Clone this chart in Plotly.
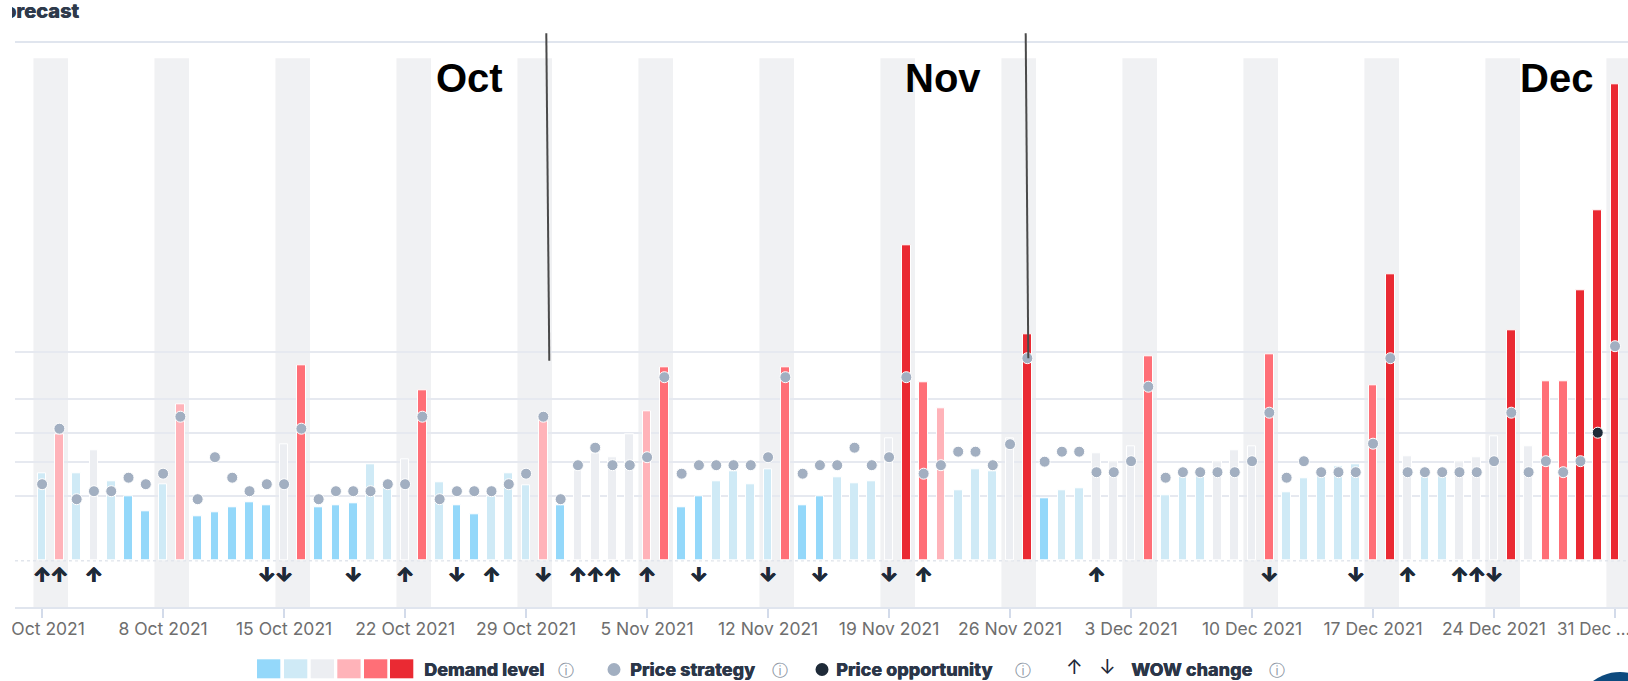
import pandas as pd
import plotly.graph_objects as go

# ---------------- data ----------------
dates = pd.date_range("2021-10-01", "2021-12-31", freq="D")

demand = [17.5, 25.3, 17.5, 22.1, 15.8, 12.9, 9.8, 15.3, 31.3, 8.8,
          9.6, 10.7, 11.7, 11.0, 23.2, 39.1, 10.7, 11.0, 11.5, 19.3,
          14.5, 20.3, 34.0, 15.6, 11.0, 9.3, 12.8, 17.5, 15.1, 28.1,
          11.1, 18.1, 21.5, 20.7, 25.3, 29.9, 38.6, 10.7, 12.8, 15.8,
          17.8, 15.3, 18.3, 38.6, 11.1, 12.8, 16.7, 15.5, 15.8, 24.5,
          63.0, 35.6, 30.5, 14.1, 18.3, 17.8, 24.5, 45.3, 12.5, 14.1,
          14.5, 21.5, 19.8, 22.9, 40.8, 13.1, 16.9, 16.9, 19.8, 22.1,
          22.9, 41.3, 13.6, 16.5, 17.5, 18.9, 19.3, 35.1, 57.3, 20.9,
          17.1, 17.1, 19.8, 20.7, 24.8, 46.1, 22.9, 35.8, 35.8, 54.0,
          70.0, 95.3]

demand_level = [2, 4, 2, 3, 2, 1, 1, 2, 4, 1,
                1, 1, 1, 1, 3, 5, 1, 1, 1, 2,
                2, 3, 5, 2, 1, 1, 2, 2, 2, 4,
                1, 3, 3, 3, 3, 4, 5, 1, 1, 2,
                2, 2, 2, 5, 1, 1, 2, 2, 2, 3,
                6, 5, 4, 2, 2, 2, 3, 6, 1, 2,
                2, 3, 3, 3, 5, 2, 2, 2, 3, 3,
                3, 5, 2, 2, 2, 2, 2, 5, 6, 3,
                2, 2, 3, 3, 3, 6, 3, 5, 5, 6,
                6, 6]

price_strategy = [15.3, 26.4, 12.3, 13.9, 13.9, 16.6, 15.3, 17.4, 28.8, 12.3,
                  20.7, 16.6, 13.9, 15.3, 15.3, 26.4, 12.3, 13.9, 13.9, 13.9,
                  15.3, 15.3, 28.8, 12.3, 13.9, 13.9, 13.9, 15.3, 17.4, 28.8,
                  12.3, 19.1, 22.6, 19.1, 19.1, 20.7, 36.7, 17.4, 19.1, 19.1,
                  19.1, 19.1, 20.7, 36.7, 17.4, 19.1, 19.1, 22.6, 19.1, 20.7,
                  36.7, 17.4, 19.1, 21.8, 21.8, 19.1, 23.3, 40.5, 19.8, 21.8,
                  21.8, 17.7, 17.7, 19.9, 34.8, 16.6, 17.7, 17.7, 17.7, 17.7,
                  19.9, 29.6, 16.6, 19.9, 17.7, 17.7, 17.7, 23.4, 40.5, 17.7,
                  17.7, 17.7, 17.7, 17.7, 19.9, 29.6, 17.7, 19.9, 17.7, 19.9,
                  None, 42.9]

opportunity_dates = ["2021-12-30"]
opportunity_values = [25.6]

wow_up = ["2021-10-01", "2021-10-02", "2021-10-04", "2021-10-22", "2021-10-27",
          "2021-11-01", "2021-11-02", "2021-11-03", "2021-11-05", "2021-11-21",
          "2021-12-01", "2021-12-19", "2021-12-22", "2021-12-23"]
wow_down = ["2021-10-14", "2021-10-15", "2021-10-19", "2021-10-25", "2021-10-30",
            "2021-11-08", "2021-11-12", "2021-11-15", "2021-11-19", "2021-12-11",
            "2021-12-16", "2021-12-24"]

month_labels = ["Oct", "Nov", "Dec"]
legend_labels = ["Demand level", "Price strategy", "Price opportunity", "WOW change"]
grid_values = [41.8, 32.3, 25.5, 19.8, 13.0]

# ---------------- styling ----------------
W, H = 1628, 681
level_colors = {1: "#94d8fa", 2: "#cfeaf6", 3: "#eceef2",
                4: "#ffb3b9", 5: "#ff6f77", 6: "#ea2a33"}
DOT = "#a2afc1"
DARK = "#1e2a38"
DAY_MS = 86400000


def px(x):
    return x / W


def py(y):
    return 1 - y / H


plot_left = 15.0
day_px = 17.285
first_px = 42.1
x_start = dates[0] - pd.Timedelta(days=(first_px - plot_left) / day_px)
x_end = x_start + pd.Timedelta(days=(W - plot_left) / day_px)

y_top_px, y_base_px, y_bot_px = 43.3, 560.7, 607.3
unit = 5.0
y_min = -(y_bot_px - y_base_px) / unit
y_max = (y_base_px - y_top_px) / unit
wow_y = -(577.5 - y_base_px) / unit

arrow_font = dict(family="Inter", size=20, color=DARK, weight=800,
                  shadow="0.5px 0 0 #1e2a38, -0.5px 0 0 #1e2a38")

fig = go.Figure()

fig.add_trace(go.Bar(
    x=dates, y=demand,
    marker=dict(color=[level_colors[l] for l in demand_level],
                line=dict(color="white", width=1)),
    width=0.5 * DAY_MS, showlegend=False, hoverinfo="x+y"))

fig.add_trace(go.Scatter(
    x=dates, y=price_strategy, mode="markers",
    marker=dict(size=11, color=DOT, line=dict(color="white", width=1)),
    showlegend=False, cliponaxis=False))

fig.add_trace(go.Scatter(
    x=pd.to_datetime(opportunity_dates), y=opportunity_values, mode="markers",
    marker=dict(size=11, color=DARK, line=dict(color="white", width=1)),
    showlegend=False, cliponaxis=False))

fig.add_trace(go.Scatter(
    x=pd.to_datetime(wow_up), y=[wow_y] * len(wow_up), mode="text",
    text=["↑"] * len(wow_up), textfont=arrow_font,
    showlegend=False, cliponaxis=False))

fig.add_trace(go.Scatter(
    x=pd.to_datetime(wow_down), y=[wow_y] * len(wow_down), mode="text",
    text=["↓"] * len(wow_down), textfont=arrow_font,
    showlegend=False, cliponaxis=False))

# title, cropped at the left edge like the screenshot
fig.add_trace(go.Scatter(
    x=[(79 - 12) / (0.2 * W - 12)], y=[0.62], mode="text",
    text=["Forecast"], textposition="middle left",
    textfont=dict(family="Inter", size=20, color="#2e3a4b", weight=800,
                  shadow="0.4px 0 0 #2e3a4b"),
    xaxis="x2", yaxis="y2", showlegend=False, cliponaxis=True, hoverinfo="skip"))

shapes = []
# weekend (Fri/Sat) bands
for d in dates:
    if d.weekday() == 4:
        shapes.append(dict(type="rect", xref="x", yref="paper",
                           x0=d - pd.Timedelta(hours=12), x1=d + pd.Timedelta(hours=36),
                           y0=py(y_bot_px), y1=py(58.3),
                           fillcolor="#f0f1f3", line=dict(width=0), layer="below"))
# dashed baseline
shapes.append(dict(type="line", xref="paper", yref="y", x0=px(plot_left), x1=1,
                   y0=0, y1=0, line=dict(color="#e1e5ec", width=1.5, dash="dot"),
                   layer="below"))
# hand-drawn black lines
shapes.append(dict(type="line", xref="paper", yref="paper",
                   x0=px(546.3), y0=py(33.3), x1=px(549.3), y1=py(360.7),
                   line=dict(color="#4a4a4a", width=2)))
shapes.append(dict(type="line", xref="paper", yref="paper",
                   x0=px(1025.7), y0=py(33.3), x1=px(1028.3), y1=py(358.3),
                   line=dict(color="#4a4a4a", width=2)))
# crop edge of the screenshot (left strip is blank)
shapes.append(dict(type="rect", xref="paper", yref="paper",
                   x0=-0.01, x1=px(12), y0=0, y1=1,
                   fillcolor="white", line=dict(width=0), layer="above"))

# legend swatches
sw_x = [257, 284, 310.7, 337.3, 364, 390]
for i, x0 in enumerate(sw_x):
    shapes.append(dict(type="rect", xref="paper", yref="paper",
                       x0=px(x0), x1=px(x0 + 23.3), y0=py(678.3), y1=py(659.3),
                       fillcolor=level_colors[i + 1], line=dict(width=0)))
# legend dots
for cx, col in [(614, DOT), (822, DARK)]:
    shapes.append(dict(type="circle", xref="paper", yref="paper",
                       x0=px(cx - 6.5), x1=px(cx + 6.5), y0=py(676), y1=py(663),
                       fillcolor=col, line=dict(width=0)))
# chat bubble in the corner of the screenshot
shapes.append(dict(type="circle", xref="paper", yref="paper",
                   x0=px(1575), x1=px(1665), y0=py(762), y1=py(672),
                   fillcolor="#0d4a7e", line=dict(width=0)))

annotations = []
for label, cx in zip(month_labels, [469.5, 943, 1556.7]):
    annotations.append(dict(text="<b>%s</b>" % label, xref="paper", yref="paper",
                            x=px(cx), y=py(77.5), xanchor="center", yanchor="middle",
                            showarrow=False,
                            font=dict(family="Liberation Sans, Arial", size=40, color="black")))

leg_y = py(669)
leg_font = dict(family="Inter", size=18, color="#2b3648", weight=800,
                shadow="0.4px 0 0 #2b3648")
for label, x0 in zip(legend_labels, [422, 627.5, 834, 1129]):
    annotations.append(dict(text=label, xref="paper", yref="paper",
                            x=px(x0), y=leg_y, xanchor="left", yanchor="middle",
                            showarrow=False, font=leg_font))
for cx in [566, 779.8, 1022.6, 1277]:
    annotations.append(dict(text="ⓘ", xref="paper", yref="paper", x=px(cx), y=py(670),
                            xanchor="center", yanchor="middle", showarrow=False,
                            font=dict(family="DejaVu Sans", size=16, color="#8c95a3")))
for sym, cx in [("↑", 1074), ("↓", 1107)]:
    annotations.append(dict(text=sym, xref="paper", yref="paper", x=px(cx), y=py(667),
                            xanchor="center", yanchor="middle", showarrow=False,
                            font=dict(family="Inter", size=20, color=DARK)))
# last tick label, shortened by the app
annotations.append(dict(text="31 Dec …", xref="paper", yref="paper", x=px(1555), y=py(628.5),
                        xanchor="left", yanchor="middle", showarrow=False,
                        font=dict(family="Inter", size=17, color="#6e6e6e")))

tickvals = list(dates[::7])
ticktext = [d.strftime("%-d %b %Y") for d in tickvals]
ticktext[-1] = ""

fig.update_layout(
    width=W, height=H,
    margin=dict(l=0, r=0, t=0, b=0),
    paper_bgcolor="white", plot_bgcolor="white",
    bargap=0,
    xaxis=dict(type="date", domain=[px(plot_left), 1], range=[x_start, x_end],
               tickvals=tickvals, ticktext=ticktext, showgrid=False,
               showline=True, linecolor="#e0e5ee", linewidth=2, mirror=True,
               ticks="outside", ticklen=9, tickwidth=2, tickcolor="#d3dbea",
               ticklabelstandoff=-4, ticklabeloverflow="allow",
               tickfont=dict(family="Inter", size=17.5, color="#6e6e6e"),
               zeroline=False, automargin=False, fixedrange=True),
    yaxis=dict(domain=[py(y_bot_px), py(y_top_px)], range=[y_min, y_max],
               tickvals=grid_values, showticklabels=False, showgrid=True,
               gridcolor="#e6e9f0", gridwidth=1.5, zeroline=False, showline=False,
               automargin=False, fixedrange=True),
    xaxis2=dict(domain=[px(12), 0.2], range=[0, 1], visible=False, anchor="y2"),
    yaxis2=dict(domain=[0.95, 1.0], range=[0, 1], visible=False, anchor="x2"),
    shapes=shapes, annotations=annotations,
)

fig.write_html("out.html")
